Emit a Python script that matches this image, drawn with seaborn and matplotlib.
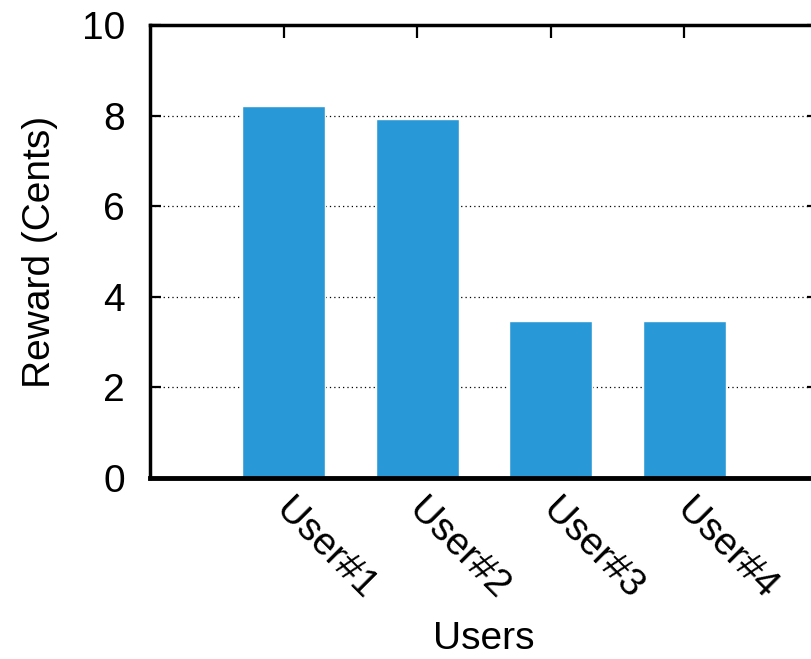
import matplotlib
matplotlib.use("Agg")
import matplotlib.pyplot as plt
import seaborn as sns
import pandas as pd

users = ["User#1", "User#2", "User#3", "User#4"]
reward = [8.22, 7.92, 3.46, 3.46]

sns.set_style("white")
plt.rcParams["font.family"] = ["Liberation Sans", "DejaVu Sans"]
plt.rcParams["text.color"] = "black"
plt.rcParams["axes.labelcolor"] = "black"

df = pd.DataFrame({"Users": users, "Reward": reward})

fig = plt.figure(figsize=(8.12, 6.59), dpi=100)
ax = fig.add_axes([150 / 812, 181 / 659, 668 / 812, 453 / 659])

sns.barplot(data=df, x="Users", y="Reward", order=users, color="#2899d6",
            saturation=1, width=0.62, ax=ax, zorder=3)

ax.set_xlim(-1, 4)
ax.set_ylim(0, 10)
ax.set_yticks([0, 2, 4, 6, 8, 10])
ax.yaxis.grid(True, linestyle=(0, (1, 2.5)), color="black", linewidth=0.9, zorder=0)
ax.xaxis.grid(False)
ax.set_axisbelow(True)

for side in ["left", "top", "right"]:
    ax.spines[side].set_visible(True)
    ax.spines[side].set_color("black")
    ax.spines[side].set_linewidth(2.5)
ax.spines["bottom"].set_color("black")
ax.spines["bottom"].set_linewidth(3.5)
ax.spines["bottom"].set_zorder(5)

ax.tick_params(axis="y", direction="in", left=True, right=True, length=8,
               width=1.6, labelsize=28, pad=18, colors="black")
ax.tick_params(axis="x", direction="in", bottom=False, top=True, length=9,
               width=1.6, labelsize=28, pad=14, colors="black")

ax.set_xticks(range(len(users)))
ax.set_xticklabels(users, rotation=-45, ha="left", va="top", rotation_mode="anchor")
shift = matplotlib.transforms.ScaledTranslation(10 / 100, 5 / 100, fig.dpi_scale_trans)
for lbl in ax.get_xticklabels():
    lbl.set_transform(lbl.get_transform() + shift)

ax.set_xlabel("Users", fontsize=28, va="baseline")
ax.xaxis.set_label_coords(0.5, -(649 - 478) / 453)
ax.set_ylabel("Reward (Cents)", fontsize=28, va="center")
ax.yaxis.set_label_coords((40 - 150) / 668, 0.5)

fig.savefig("out.png", dpi=100)
